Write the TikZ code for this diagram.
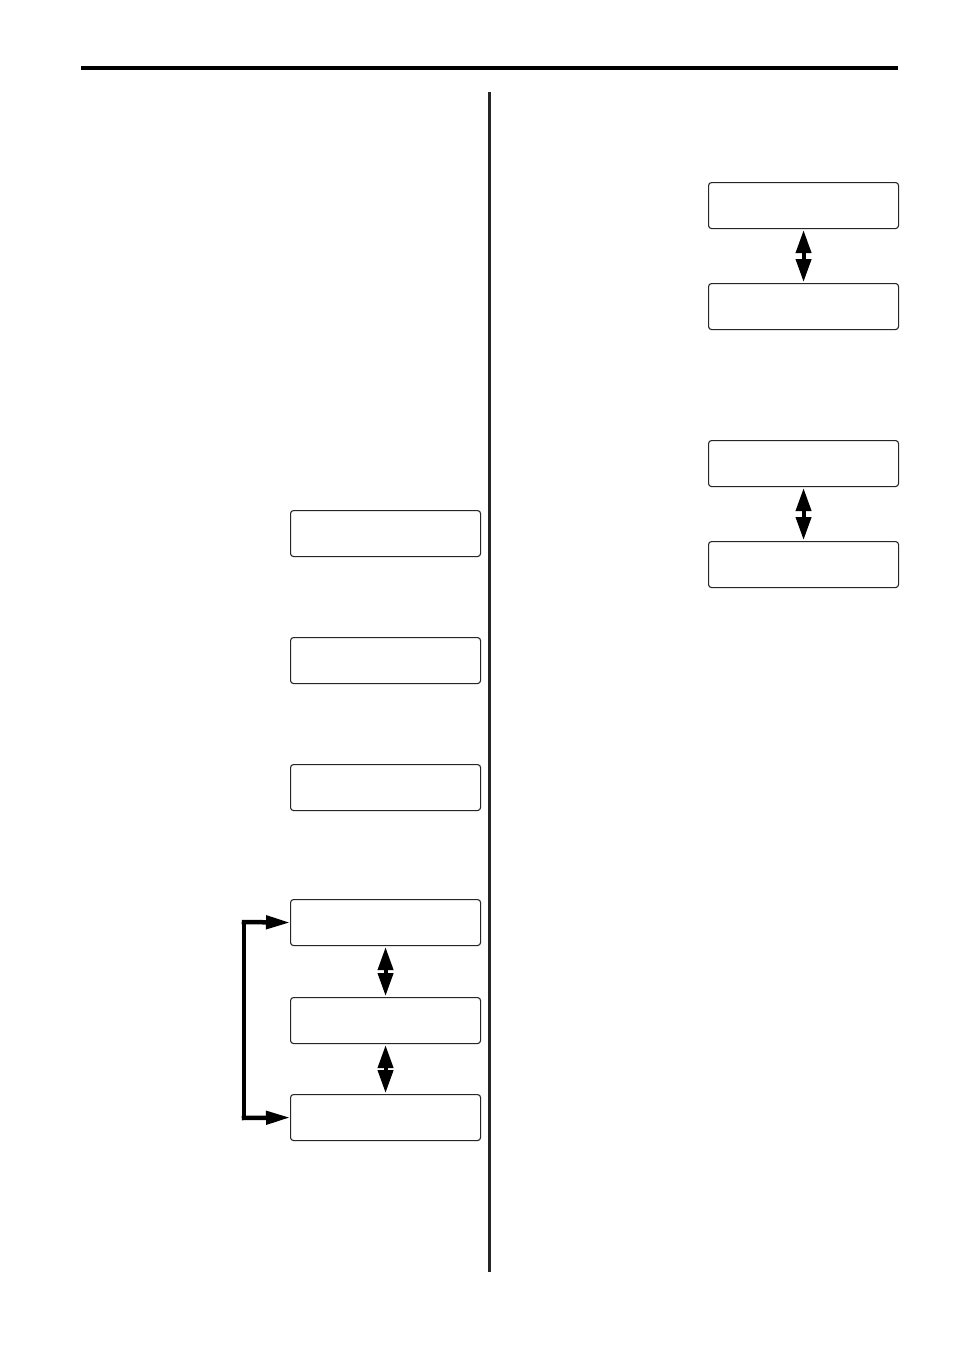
\documentclass[tikz,border=0pt]{standalone}
\usetikzlibrary{arrows.meta}
\begin{document}
\begin{tikzpicture}[x=1pt,y=-1pt,
  lcd/.style={draw=black!85,line width=1.1pt,rounded corners=3pt,minimum width=190pt,minimum height=46pt,inner sep=0pt,anchor=north west},
  dbl/.style={line width=4pt,{Triangle[length=23pt 0,width=15pt 0]}-{Triangle[length=23pt 0,width=15pt 0]},shorten <=1pt,shorten >=1pt},
  loop/.style={line width=4.5pt,-{Triangle[length=24pt 0,width=13pt 0]}}]
\useasboundingbox (0,0) rectangle (954,1350);
\fill[white] (0,0) rectangle (954,1350);
\draw[line width=3.2pt] (81,68) -- (898,68);
\draw[line width=3pt,black!85] (489,92) -- (489,1272);
% left boxes
\node[lcd] (a) at (290,510) {};
\node[lcd] (b) at (290,637) {};
\node[lcd] (c) at (290,764) {};
\node[lcd] (d) at (290,899) {};
\node[lcd] (e) at (290,997) {};
\node[lcd] (f) at (290,1094) {};
% right boxes
\node[lcd] (g) at (708,182) {};
\node[lcd] (h) at (708,283) {};
\node[lcd] (i) at (708,440) {};
\node[lcd] (j) at (708,541) {};
% double arrows
\draw[dbl] (d.south) -- (e.north);
\draw[dbl] (e.south) -- (f.north);
\draw[dbl] (g.south) -- (h.north);
\draw[dbl] (i.south) -- (j.north);
% loop arrows
\coordinate (lt) at (244,922);
\coordinate (lb) at (244,1118);
\draw[line width=4.5pt] ([yshift=-2.25pt]lt) -- ([yshift=2.25pt]lb);
\draw[loop] ([xshift=-2.25pt]lt) -- (d.west);
\draw[loop] ([xshift=-2.25pt]lb) -- (f.west);
\end{tikzpicture}
\end{document}
